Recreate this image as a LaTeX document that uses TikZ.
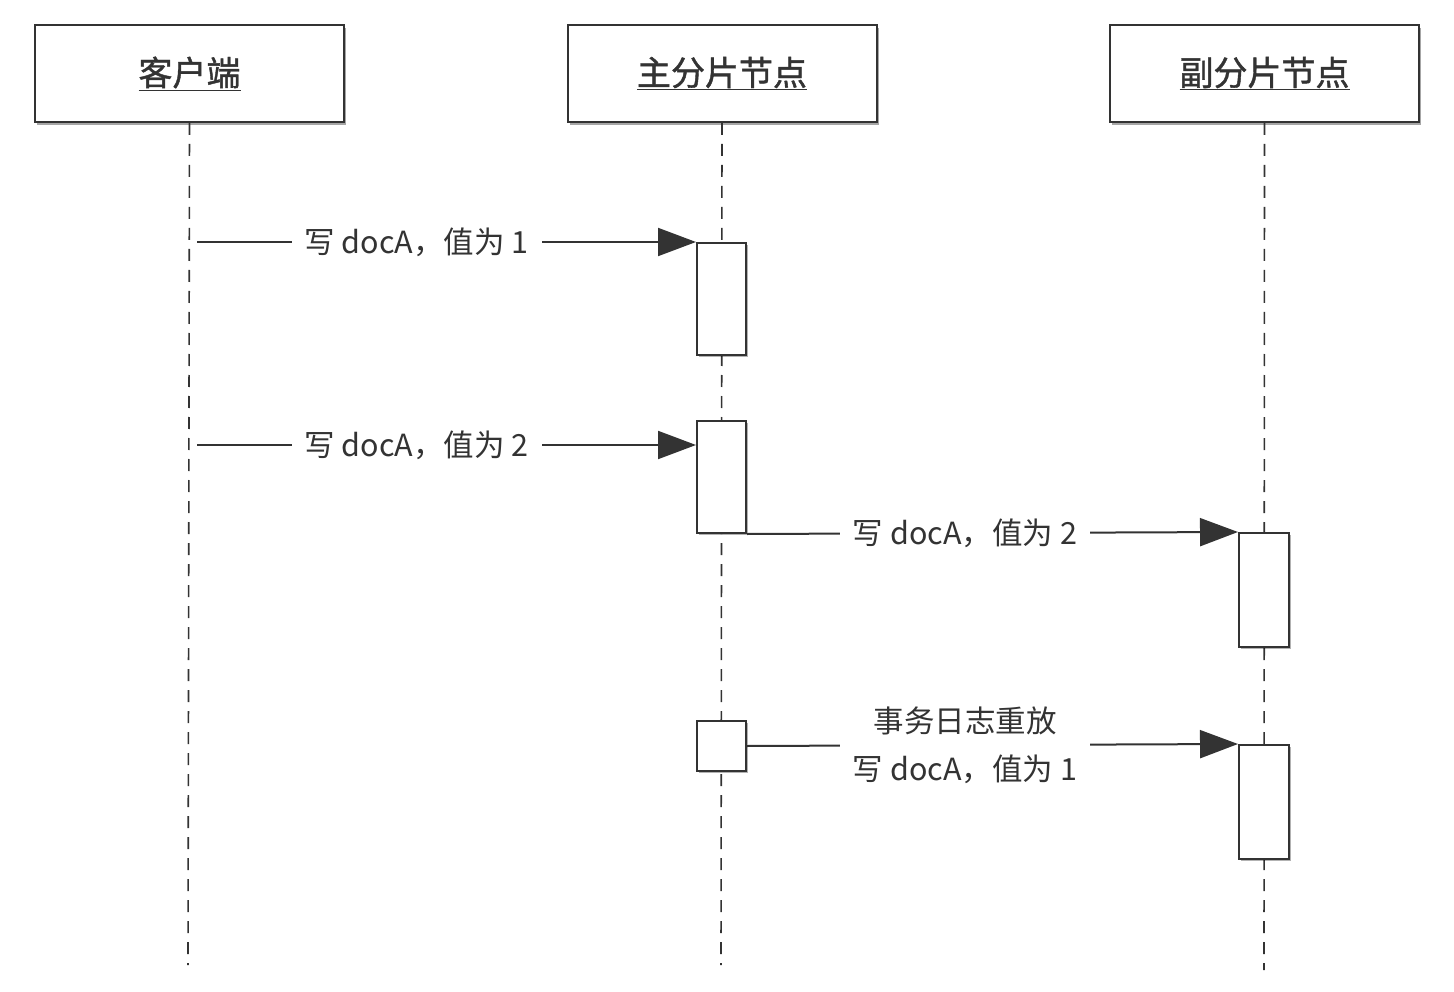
\documentclass[tikz,border=0pt]{standalone}
\usepackage{fontspec}
\setmainfont{Noto Sans CJK SC}
\newfontfamily\hdrfont[FakeBold=1.2]{Noto Sans CJK SC}
\usetikzlibrary{arrows.meta,shadows}
\definecolor{ink}{HTML}{333333}
\begin{document}
\begin{tikzpicture}[x=1pt,y=-1pt,
  header/.style={draw=ink,line width=2pt,fill=white,minimum width=309pt,minimum height=97pt,inner sep=0pt,
    font=\hdrfont\fontsize{34}{40}\selectfont,text=ink,
    drop shadow={shadow xshift=2pt,shadow yshift=-3pt,opacity=0.35,fill=black}},
  act/.style={draw=ink,line width=2pt,fill=white,minimum width=49pt,inner sep=0pt,
    drop shadow={shadow xshift=2pt,shadow yshift=-2pt,opacity=0.3,fill=black}},
  life/.style={draw=ink,line width=1.6pt,dash pattern=on 12pt off 9pt},
  msg/.style={draw=ink,line width=2pt,-{Triangle[length=38pt,width=28pt]}},
  lbl/.style={fill=white,text=ink,inner xsep=13pt,inner ysep=2pt,font=\fontsize{30.5}{48}\selectfont,align=center}
]
\useasboundingbox (0,0) rectangle (1454,992);
% headers
\node[header] (c) at (189.5,73.5) {\raisebox{-2pt}{\underline{客户端}}};
\node[header] (p) at (722,73.5) {\raisebox{-2pt}{\underline{主分片节点}}};
\node[header] (r) at (1264.5,73.5) {\raisebox{-2pt}{\underline{副分片节点}}};
% lifeline ends
\coordinate (ce) at (188,965);
\coordinate (pe) at (721,965);
\coordinate (re) at (1264,970);
\draw[life] (c.south) -- (ce);
\draw[life] (p.south) -- (pe);
\draw[life] (r.south) -- (re);
% activation boxes
\node[act,minimum height=112pt] (a1) at (721.5,299) {};
\node[act,minimum height=112pt] (a2) at (721.5,477) {};
\node[act,minimum height=50pt] (a3) at (721.5,746) {};
\node[act,minimum width=50pt,minimum height=114pt] (r1) at (1264,590) {};
\node[act,minimum width=50pt,minimum height=114pt] (r2) at (1264,802) {};
% message start points
\coordinate (s1) at (197,242);
\coordinate (s2) at (197,445);
% messages
\draw[msg] (s1) -- node[lbl,pos=0.44] {写 docA，值为 1} (a1.north west);
\draw[msg] (s2) -- node[lbl,pos=0.44] {写 docA，值为 2} (a2.west |- s2);
\draw[msg] (a2.south east) -- node[lbl,pos=0.444] {写 docA，值为 2} (r1.north west);
\draw[msg] (a3.east) -- node[lbl,pos=0.444] {事务日志重放\\写 docA，值为 1} (r2.north west);
\end{tikzpicture}
\end{document}
